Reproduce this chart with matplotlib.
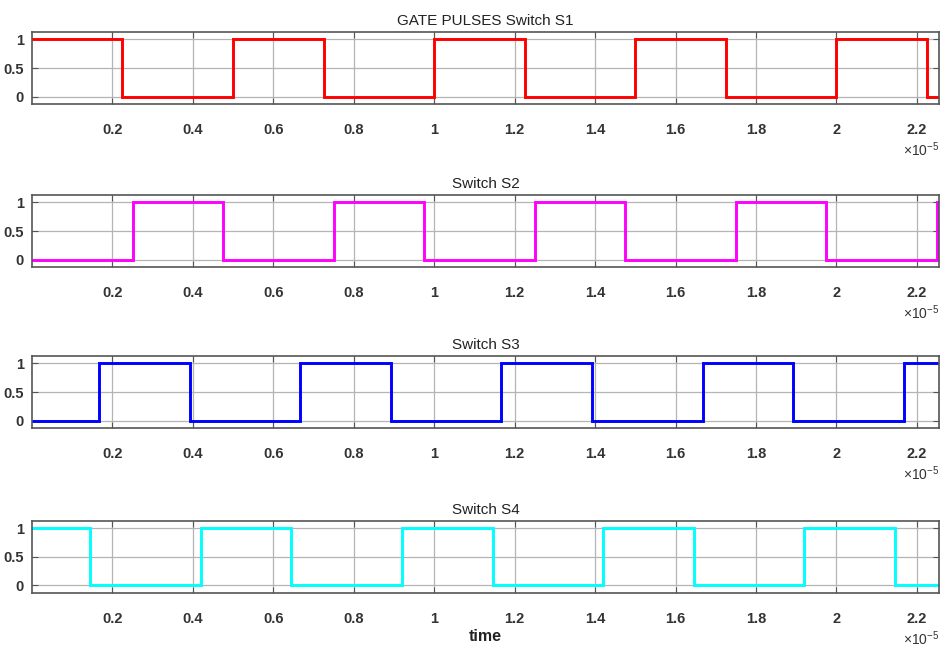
import matplotlib
matplotlib.use("Agg")
import matplotlib.pyplot as plt

plt.rcParams['font.family'] = ['Liberation Sans', 'DejaVu Sans']
plt.rcParams['mathtext.fontset'] = 'custom'
plt.rcParams['mathtext.rm'] = 'Liberation Sans'

# switching instants (in units of 1e-5 s) and the initial gate state
s1_edges = [0.225, 0.5, 0.725, 1.0, 1.225, 1.5, 1.725, 2.0, 2.225]
s1_start = 1
s2_edges = [0.25, 0.475, 0.75, 0.975, 1.25, 1.475, 1.75, 1.975, 2.25]
s2_start = 0
s3_edges = [0.167, 0.392, 0.667, 0.892, 1.167, 1.392, 1.667, 1.892, 2.167]
s3_start = 0
s4_edges = [0.145, 0.42, 0.645, 0.92, 1.145, 1.42, 1.645, 1.92, 2.145]
s4_start = 1

titles = ["GATE PULSES Switch S1", "Switch S2", "Switch S3", "Switch S4"]
colors = ["#ff0000", "#ff00ff", "#0000ff", "#00ffff"]
x_ticks = [0.2, 0.4, 0.6, 0.8, 1.0, 1.2, 1.4, 1.6, 1.8, 2.0, 2.2]
y_ticks = [0, 0.5, 1]
t_end = 2.255
scale = 1e-5


def pulse(edges, start):
    xs = [0.0]
    ys = [start]
    level = start
    for e in edges:
        xs += [e, e]
        ys += [level, 1 - level]
        level = 1 - level
    xs.append(t_end + 0.05)
    ys.append(level)
    return [v * scale for v in xs], ys


signals = [(s1_edges, s1_start), (s2_edges, s2_start),
           (s3_edges, s3_start), (s4_edges, s4_start)]

fig = plt.figure(figsize=(9.4, 6.48), dpi=100)
left, width = 0.034, 0.965
bottoms = [0.8395, 0.5880, 0.3395, 0.0850]
height = 0.1110
txt = "#333333"

for i, ((edges, start), title, col) in enumerate(zip(signals, titles, colors)):
    ax = fig.add_axes([left, bottoms[i], width, height])
    xs, ys = pulse(edges, start)
    ax.plot(xs, ys, color=col, lw=2.1, solid_joinstyle='miter')
    ax.set_xlim(0, t_end * scale)
    ax.set_ylim(-0.13, 1.13)
    ax.set_xticks([v * scale for v in x_ticks])
    ax.set_xticklabels([f"{v:g}" for v in x_ticks])
    ax.set_yticks(y_ticks)
    ax.set_yticklabels([f"{v:g}" for v in y_ticks])
    ax.grid(True, color="#b4b4b4", lw=0.9)
    ax.set_axisbelow(True)
    ax.tick_params(direction='in', top=True, right=True, length=4,
                   labelsize=10.5, colors="#555555", labelcolor=txt)
    ax.tick_params(axis='x', pad=14)
    ax.tick_params(axis='y', pad=6)
    for lab in ax.get_xticklabels() + ax.get_yticklabels():
        lab.set_fontweight('bold')
    for sp in ax.spines.values():
        sp.set_color("#555555")
        sp.set_linewidth(1.2)
    ax.set_title(title, fontsize=11, color="#222222", pad=5)
    ax.text(1.0, -0.63, r"$\times10^{-5}$", transform=ax.transAxes,
            ha='right', va='center', fontsize=10, color=txt)
    if i == 3:
        ax.set_xlabel("time", fontsize=11.5, fontweight='bold',
                      color="#222222", labelpad=2)

fig.savefig("out.png", dpi=100, facecolor="white")
